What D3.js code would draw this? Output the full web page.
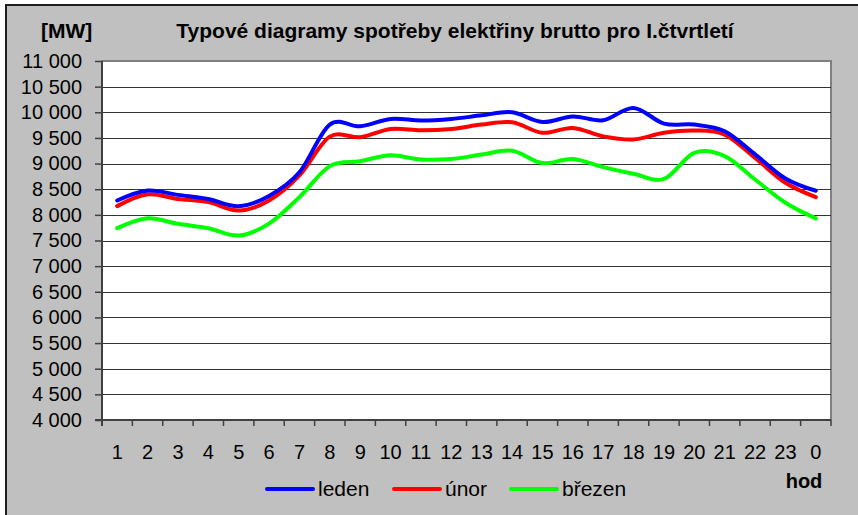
<!DOCTYPE html>
<html>
<head>
<meta charset="utf-8">
<script src="https://cdn.jsdelivr.net/npm/d3@7"></script>
<style>
    html, body { margin: 0; padding: 0; background: #fff; }
    svg { display: block; font-family: "Liberation Sans", Arial, sans-serif; }
</style>
</head>
<body>
<div id="chart"></div>
<script>
// hodiny dne (1 .. 23, 0)
const hours = ['1', '2', '3', '4', '5', '6', '7', '8', '9', '10', '11', '12',
    '13', '14', '15', '16', '17', '18', '19', '20', '21', '22', '23', '0'];

// odhadnuto z obrázku [MW]
const leden = [8280, 8475, 8390, 8310, 8170, 8370, 8830, 9760, 9727, 9870, 9840, 9870,
    9940, 10000, 9810, 9920, 9845, 10085, 9780, 9760, 9630, 9180, 8710, 8470];
const unor = [8170, 8400, 8310, 8250, 8085, 8280, 8770, 9525, 9513, 9675, 9650, 9675,
    9760, 9805, 9600, 9695, 9530, 9470, 9600, 9645, 9565, 9110, 8625, 8345];
const brezen = [7740, 7935, 7825, 7740, 7597, 7830, 8345, 8950, 9045, 9160, 9080, 9090,
    9175, 9250, 9010, 9090, 8930, 8800, 8700, 9210, 9145, 8690, 8235, 7930];

const yTicks = d3.range(4000, 11001, 500);
const seriesNames = ['leden', 'únor', 'březen'];
const seriesColors = ['#0000ff', '#ff0000', '#00ff00'];

function lineChart() {
    let width = 858;
    let height = 515;
    let margin = {top: 61, left: 102, right: 27, bottom: 95};
    let chartWidth, chartHeight;
    let xScale, yScale, svg, chart;
    let series;

    const fmt = d3.formatLocale({decimal: ',', thousands: ' ', grouping: [3], currency: ['', '']}).format(',');

    function exports(container) {
        chartWidth = width - margin.left - margin.right;
        chartHeight = height - margin.top - margin.bottom;
        series = [leden, unor, brezen].map((values, i) => ({
            name: seriesNames[i],
            color: seriesColors[i],
            values
        }));

        buildScales();
        buildSVG(container);
        drawGrid();
        drawAxes();
        drawLines();
        drawTexts();
        drawLegend();
    }

    function buildScales() {
        xScale = d3.scaleBand()
            .domain(hours)
            .range([0, chartWidth]);

        yScale = d3.scaleLinear()
            .domain([4000, 11000])
            .range([chartHeight, 0]);
    }

    function buildSVG(container) {
        svg = d3.select(container)
          .append('svg')
            .attr('width', width)
            .attr('height', height);

        // šedé pozadí grafu s tmavým okrajem
        svg.append('rect')
            .attr('x', 6)
            .attr('y', 5)
            .attr('width', width + 10)
            .attr('height', height + 10)
            .attr('fill', '#c0c0c0')
            .attr('stroke', '#1e1e1e')
            .attr('stroke-width', 2);

        chart = svg.append('g')
            .attr('transform', `translate(${margin.left},${margin.top})`);

        chart.append('rect')
            .attr('width', chartWidth)
            .attr('height', chartHeight)
            .attr('fill', '#fff')
            .attr('stroke', '#808080')
            .attr('stroke-width', 2);
    }

    function drawGrid() {
        chart.append('g')
            .selectAll('line')
            .data(yTicks.slice(1, -1))
            .join('line')
            .attr('x1', 0)
            .attr('x2', chartWidth)
            .attr('y1', d => Math.round(yScale(d)) + 0.5)
            .attr('y2', d => Math.round(yScale(d)) + 0.5)
            .attr('stroke', '#333')
            .attr('stroke-width', 1);
    }

    function drawAxes() {
        const yAxis = d3.axisLeft(yScale)
            .tickValues(yTicks)
            .tickSize(7)
            .tickPadding(13)
            .tickFormat(fmt);

        const yg = chart.append('g').call(yAxis);
        yg.select('.domain').attr('stroke', '#404040').attr('stroke-width', 2)
            .attr('d', `M0,0V${chartHeight + 6}`);
        yg.selectAll('.tick line').attr('stroke', '#404040').attr('stroke-width', 1.5);
        yg.selectAll('.tick text')
            .attr('font-size', 20)
            .attr('fill', '#000')
            .attr('font-family', '"Liberation Sans", Arial, sans-serif');

        // popisky hodin uprostřed pásma
        const xAxis = d3.axisBottom(xScale).tickSize(0).tickPadding(25);
        const xg = chart.append('g')
            .attr('transform', `translate(0,${chartHeight})`)
            .call(xAxis);
        xg.select('.domain').remove();
        xg.selectAll('.tick text')
            .attr('font-size', 20)
            .attr('fill', '#000')
            .attr('font-family', '"Liberation Sans", Arial, sans-serif');

        // značky na hranicích pásem
        const bounds = hours.map(h => xScale(h)).concat([chartWidth]);
        const bx = chart.append('g').attr('transform', `translate(0,${chartHeight})`);
        bx.append('line')
            .attr('x1', -7)
            .attr('x2', chartWidth)
            .attr('stroke', '#404040')
            .attr('stroke-width', 2);
        bx.selectAll('.bt')
            .data(bounds.slice(1))
            .join('line')
            .attr('class', 'bt')
            .attr('x1', d => d)
            .attr('x2', d => d)
            .attr('y1', 0)
            .attr('y2', 6)
            .attr('stroke', '#404040')
            .attr('stroke-width', 1.5);
    }

    function drawLines() {
        const line = d3.line()
            .x((d, i) => xScale(hours[i]) + xScale.bandwidth() / 2)
            .y(d => yScale(d))
            .curve(d3.curveCardinal.tension(0));

        chart.append('g')
            .selectAll('path')
            .data(series.slice().reverse())
            .join('path')
            .attr('d', d => line(d.values))
            .attr('fill', 'none')
            .attr('stroke', d => d.color)
            .attr('stroke-width', 4)
            .attr('stroke-linejoin', 'round')
            .attr('stroke-linecap', 'round');
    }

    function drawTexts() {
        svg.append('text')
            .attr('x', 41)
            .attr('y', 38)
            .attr('font-size', 21)
            .attr('font-weight', 'bold')
            .text('[MW]');

        svg.append('text')
            .attr('x', 455)
            .attr('y', 38)
            .attr('text-anchor', 'middle')
            .attr('font-size', 21)
            .attr('font-weight', 'bold')
            .text('Typové diagramy spotřeby elektřiny brutto pro I.čtvrtletí');

        svg.append('text')
            .attr('x', 804)
            .attr('y', 488)
            .attr('text-anchor', 'middle')
            .attr('font-size', 20)
            .attr('font-weight', 'bold')
            .text('hod');
    }

    function drawLegend() {
        const xs = [267, 394, 511];
        const items = svg.append('g')
            .selectAll('g')
            .data(series)
            .join('g')
            .attr('transform', (d, i) => `translate(${xs[i]},489)`);

        items.append('line')
            .attr('x1', 0)
            .attr('x2', 46)
            .attr('stroke', d => d.color)
            .attr('stroke-width', 4)
            .attr('stroke-linecap', 'round');

        items.append('text')
            .attr('x', 51)
            .attr('dy', '0.35em')
            .attr('font-size', 21)
            .text(d => d.name);
    }

    return exports;
}

lineChart()(document.getElementById('chart'));
</script>
</body>
</html>
